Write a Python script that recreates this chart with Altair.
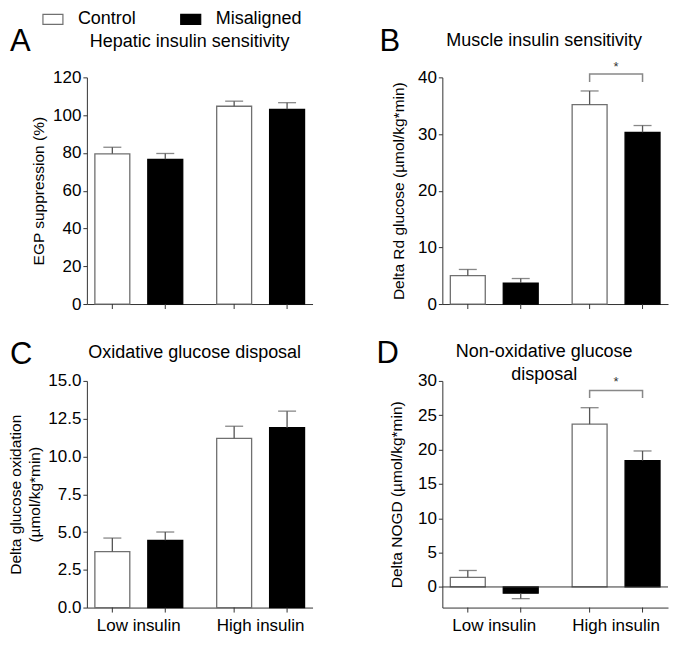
import altair as alt
import pandas as pd

groups = ["Low insulin", "High insulin"]
conditions = ["Control", "Misaligned"]

# bar order: Low/Control, Low/Misaligned, High/Control, High/Misaligned
a_mean = [79.5, 76.6, 104.7, 103.1]
a_sem = [3.5, 3.1, 2.7, 3.5]
b_mean = [5.0, 3.7, 35.2, 30.3]
b_sem = [1.1, 0.8, 2.4, 1.2]
c_mean = [3.7, 4.45, 11.2, 11.9]
c_sem = [0.9, 0.55, 0.8, 1.1]
d_mean = [1.4, -0.9, 23.7, 18.4]
d_sem = [1.0, 0.8, 2.4, 1.4]

panel_letters = ["A", "B", "C", "D"]
panel_titles = ["Hepatic insulin sensitivity", "Muscle insulin sensitivity",
                "Oxidative glucose disposal", "Non-oxidative glucose\ndisposal"]
y_titles = ["EGP suppression (%)", "Delta Rd glucose (µmol/kg*min)",
            ["Delta glucose oxidation", "(µmol/kg*min)"], "Delta NOGD (µmol/kg*min)"]
y_domains = [[0, 120], [0, 40], [0, 15], [-3, 30]]
y_ticks = [[0, 20, 40, 60, 80, 100, 120], [0, 10, 20, 30, 40],
           [0, 2.5, 5, 7.5, 10, 12.5, 15], [0, 5, 10, 15, 20, 25, 30]]
y_formats = ["d", "d", ".1f", "d"]

# significance brackets: [bracket top, leg bottom, star]
sig_b = [40.6, 39.2, 41.9]
sig_d = [28.6, 27.5, 29.8]

FONT = "Liberation Sans"
W = 226
H = 227
AXC = "#333333"

row_groups = [groups[0], groups[0], groups[1], groups[1]]
row_conds = [conditions[0], conditions[1], conditions[0], conditions[1]]


def make_panel(idx, means, sems, sig, bottom, title_xy, letter_xy, ytitle_x):
    tips = [m + s if m >= 0 else m - s for m, s in zip(means, sems)]
    df = pd.DataFrame({"group": row_groups, "cond": row_conds,
                       "mean": means, "tip": tips})
    if bottom:
        xaxis = alt.Axis(title=None, ticks=False, labels=True, labelFontSize=17,
                         labelPadding=10, labelColor="black", domainColor=AXC,
                         labelAngle=0, tickSize=0, labelOverlap=False)
    else:
        xaxis = alt.Axis(title=None, ticks=False, labels=False, domainColor=AXC,
                         tickSize=0)
    x = alt.X("group:N", sort=groups,
              scale=alt.Scale(domain=groups, paddingInner=0.2787, paddingOuter=0.0656),
              axis=xaxis)
    xo = alt.XOffset("cond:N", sort=conditions,
                     scale=alt.Scale(domain=conditions, paddingInner=0.34, paddingOuter=0))
    ys = alt.Scale(domain=y_domains[idx], nice=False, zero=False)
    yaxis = alt.Axis(values=y_ticks[idx], format=y_formats[idx], title=y_titles[idx],
                     titleX=ytitle_x, titleBaseline="middle", titleLineHeight=19,
                     titleFontSize=15.5, titleFontWeight="normal", titleColor="black",
                     labelFontSize=17, labelColor="black", labelPadding=2,
                     labelOverlap=False, labelFlush=False, tickCount=len(y_ticks[idx]),
                     tickSize=4, tickColor=AXC, domainColor=AXC, grid=False)

    def Y(field):
        return alt.Y(field, scale=ys, axis=yaxis)

    base = alt.Chart(df)
    bars = base.mark_bar(strokeWidth=1.3).encode(
        x=x, xOffset=xo,
        y=Y("mean:Q"),
        y2=alt.datum(0),
        fill=alt.Fill("cond:N", sort=conditions,
                      scale=alt.Scale(domain=conditions, range=["white", "black"]),
                      legend=alt.Legend(title=None, orient="none", legendX=-45, legendY=-69,
                                        direction="horizontal",
                                        symbolType="M-1,-0.5H1V0.5H-1Z", symbolSize=400,
                                        symbolStrokeColor="#555555", symbolStrokeWidth=1.2,
                                        labelFontSize=18, labelOffset=14, columnPadding=41,
                                        padding=0, labelColor="black", labelFont=FONT)),
        stroke=alt.Stroke("cond:N", sort=conditions,
                          scale=alt.Scale(domain=conditions, range=["#707070", "black"]),
                          legend=None),
    )
    err = base.mark_rule(color="#555555", strokeWidth=1.3).encode(
        x=x, xOffset=xo, y=Y("mean:Q"), y2="tip:Q")
    cap = base.mark_tick(color="#555555", thickness=1.3, size=18).encode(
        x=x, xOffset=xo, y=Y("tip:Q"))
    xticks = base.mark_rule(color=AXC, strokeWidth=1).encode(
        x=x, xOffset=xo, y=alt.value(H), y2=alt.value(H + 5))
    layers = [bars, err, cap, xticks]
    if y_domains[idx][0] < 0:
        zero = alt.Chart(pd.DataFrame({"z": [0]})).mark_rule(color=AXC, strokeWidth=1).encode(
            y=Y("z:Q"))
        layers.append(zero)
    if sig is not None:
        bdf = pd.DataFrame({"group": [groups[1]] * 4,
                            "cond": [conditions[0], conditions[0], conditions[1], conditions[1]],
                            "v": [sig[1], sig[0], sig[0], sig[1]],
                            "o": [0, 1, 2, 3]})
        bracket = alt.Chart(bdf).mark_line(color="#888888", strokeWidth=1.5).encode(
            x=x, xOffset=xo, y=Y("v:Q"), order="o:Q")
        sdf = pd.DataFrame({"group": [groups[1]], "v": [sig[2]], "s": ["*"]})
        star = alt.Chart(sdf).mark_text(fontSize=13, font=FONT, color="#333333",
                                         baseline="middle").encode(
            x=x, y=Y("v:Q"), text="s:N")
        layers += [bracket, star]
    tdf = pd.DataFrame({"t": [panel_titles[idx]]})
    title = alt.Chart(tdf).mark_text(fontSize=18, font=FONT, color="black", align="center",
                                     baseline="middle", lineBreak="\n", lineHeight=23).encode(
        x=alt.value(title_xy[0]), y=alt.value(title_xy[1]), text="t:N")
    ldf = pd.DataFrame({"t": [panel_letters[idx]]})
    letter = alt.Chart(ldf).mark_text(fontSize=31, font=FONT, color="black", align="left",
                                      baseline="middle").encode(
        x=alt.value(letter_xy[0]), y=alt.value(letter_xy[1]), text="t:N")
    layers += [title, letter]
    return alt.layer(*layers).properties(width=W, height=H)


pA = make_panel(0, a_mean, a_sem, None, False, (103, -35), (-77, -35), -48)
pB = make_panel(1, b_mean, b_sem, sig_b, False, (102, -36), (-63, -35), -44)
pC = make_panel(2, c_mean, c_sem, None, True, (108, -28), (-77, -26), -71)
pD = make_panel(3, d_mean, d_sem, sig_d, True, (102, -29), (-66, -27), -46)

chart = alt.concat(pA, pB, pC, pD, columns=2,
                   spacing=alt.RowColnumber(row=77, column=130),
                   bounds="flush").properties(padding=0).configure_view(
    stroke=None).configure_axis(labelFont=FONT, titleFont=FONT).configure_text(font=FONT)

chart.save("out.html", embed_options={"renderer": "svg", "actions": False})
